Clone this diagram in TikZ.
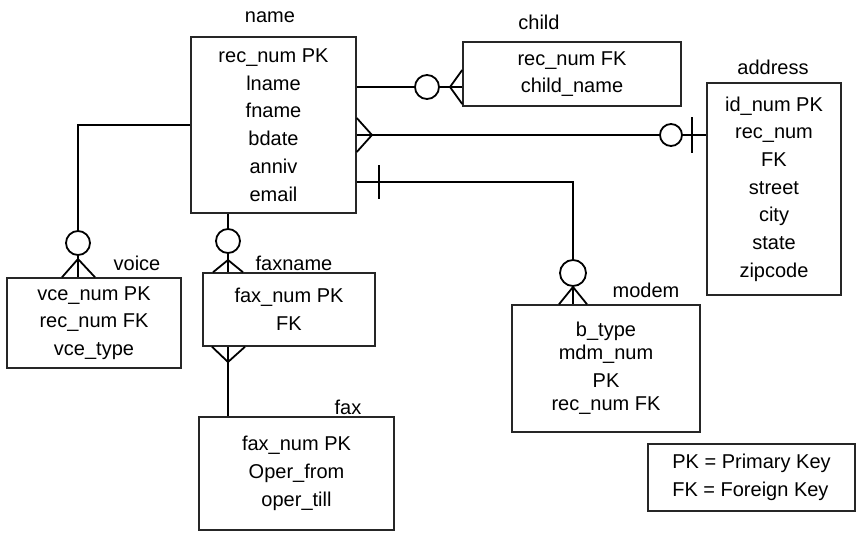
\documentclass[tikz,border=0pt]{standalone}
\usepackage{fontspec}
\setmainfont{Liberation Sans}
\usetikzlibrary{positioning}

\begin{document}
\begin{tikzpicture}[
  x=1pt, y=-1pt,
  line width=1.8pt,
  entity/.style={
    draw=black!85,
    line width=1.5pt,
    rectangle,
    inner sep=0pt,
    align=center,
    font=\fontsize{20}{27.7}\selectfont
    },
  elabel/.style={inner sep=0pt, font=\fontsize{20}{24}\selectfont},
  ring/.style={draw, fill=white, circle, inner sep=0pt, minimum size=24pt}
]
\useasboundingbox (0,0) rectangle (857,539);

% tables
\node [entity, minimum width=165pt, minimum height=176pt] (name) at (273.5,125)
  {rec\_num PK\\ lname\\ fname\\ bdate\\ anniv\\ email};
\node [entity, minimum width=218pt, minimum height=64pt] (child) at (572,74)
  {rec\_num FK\\ child\_name};
\node [entity, minimum width=134pt, minimum height=212pt] (address) at (774,189)
  {id\_num PK\\ rec\_num\\ FK\\ street\\ city\\ state\\ zipcode};
\node [entity, minimum width=174pt, minimum height=90pt] (voice) at (94,323)
  {vce\_num PK\\ rec\_num FK\\ vce\_type};
\node [entity, minimum width=172pt, minimum height=73pt] (faxname) at (289,309.5)
  {fax\_num PK\\ FK};
\node [entity, minimum width=195pt, minimum height=113pt] (fax) at (296.5,473.5)
  {fax\_num PK\\ Oper\_from\\ oper\_till};
\node [entity, minimum width=188pt, minimum height=127pt] (modem) at (606,368.5)
  {b\_type\\[-4.5pt] mdm\_num\\ PK\\[-4.5pt] rec\_num FK};
\node [entity, align=left, minimum width=207pt, minimum height=67pt] (legend) at (751.5,477.5)
  {PK = Primary Key\\ FK = Foreign Key};

% table names
\node [elabel] (lname) at (270,17) {name};
\node [elabel] (lchild) at (539,22) {child};
\node [elabel] (laddress) at (773,67) {address};
\node [elabel] (lvoice) at (137,263) {voice};
\node [elabel] (lfaxname) at (294,263) {faxname};
\node [elabel] (lfax) at (348,407) {fax};
\node [elabel] (lmodem) at (646,290) {modem};

% name -- child
\draw (name.east |- 0,87) -- (child.west |- 0,87);
\draw (child.west |- 0,70) -- (450,87) -- (child.west |- 0,104);
\node [ring] (rchild) at (427,87) {};

% name -- address
\draw (name.east |- 0,135) -- (address.west |- 0,135);
\draw (name.east |- 0,118) -- (372,135) -- (name.east |- 0,152);
\draw (692,117) -- (692,153);
\node [ring, minimum size=22pt] (raddress) at (671,135) {};

% name -- modem
\draw (name.east |- 0,182) -| (modem.north -| 573,0);
\draw (379,165) -- (379,199);
\draw (modem.north -| 559,0) -- (573,287) -- (modem.north -| 587,0);
\node [ring, minimum size=26pt] (rmodem) at (573,273) {};

% name -- voice
\draw (name.west |- 0,125) -| (voice.north -| 78,0);
\draw (voice.north -| 62,0) -- (78,259) -- (voice.north -| 95,0);
\node [ring] (rvoice) at (78,243) {};

% name -- faxname
\draw (name.south -| 228,0) -- (faxname.north -| 228,0);
\draw (faxname.north -| 213,0) -- (228,260) -- (faxname.north -| 243,0);
\node [ring] (rfaxname) at (228,241) {};

% faxname -- fax
\draw (faxname.south -| 228,0) -- (fax.north -| 228,0);
\draw (faxname.south -| 212,0) -- (228,362) -- (faxname.south -| 245,0);

\end{tikzpicture}
\end{document}
